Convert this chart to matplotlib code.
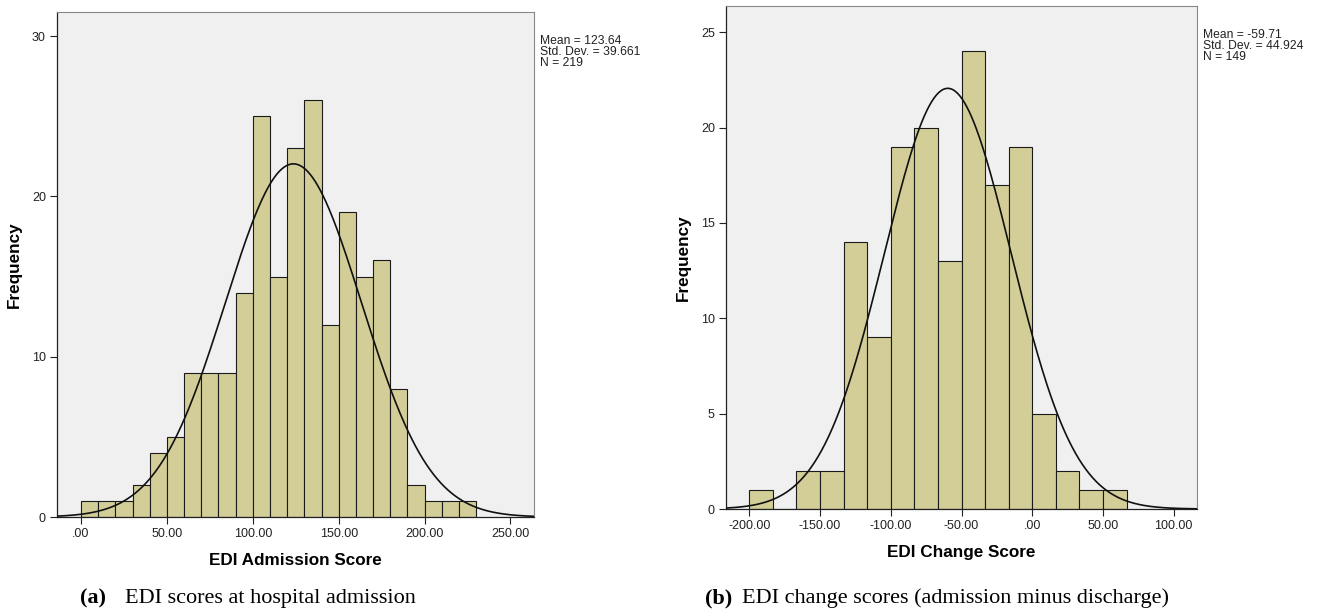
import numpy as np
from matplotlib import pyplot as plt
from matplotlib.ticker import FuncFormatter

# (a) EDI admission score histogram, bins of width 10 starting at 0
adm_counts = [1, 1, 1, 2, 4, 5, 9, 9, 9, 14, 25, 15, 23, 26, 12, 19, 15, 16, 8, 2, 1, 1, 1]
adm_start = 0.0
adm_width = 10.0
adm_mean, adm_sd, adm_n = 123.64, 39.661, 219

# (b) EDI change score histogram, bins of width 50/3 starting at -200
chg_counts = [1, 0, 2, 2, 14, 9, 19, 20, 13, 24, 17, 19, 5, 2, 1, 1]
chg_start = -200.0
chg_width = 50.0 / 3
chg_mean, chg_sd, chg_n = -59.71, 44.924, 149

W, H = 1318, 613
BAR = '#D3CE97'
BG = '#F0F0F0'
plt.rcParams['font.family'] = ['Liberation Sans', 'DejaVu Sans']

def fmt(v, pos):
    s = '%.2f' % v
    if s in ('0.00', '-0.00'):
        return '.00'
    return s

def draw(ax, counts, start, width, mean, sd, n, xlim, ylim, xticks, yticks, xlabel):
    ax.set_facecolor(BG)
    lefts = [start + i * width for i in range(len(counts))]
    ax.bar(lefts, counts, width=width, align='edge', color=BAR,
           edgecolor='#1a1a1a', linewidth=0.8, zorder=2)
    # normal curve fitted to the stats shown in the box
    xs = np.linspace(xlim[0], xlim[1], 400)
    ys = n * width / (sd * np.sqrt(2 * np.pi)) * np.exp(-0.5 * ((xs - mean) / sd) ** 2)
    ax.plot(xs, ys, color='#111111', lw=1.2, zorder=3)
    ax.set_xlim(*xlim)
    ax.set_ylim(*ylim)
    ax.set_xticks(xticks)
    ax.set_yticks(yticks)
    ax.xaxis.set_major_formatter(FuncFormatter(fmt))
    ax.tick_params(direction='out', length=5, width=0.8, colors='#222222',
                   labelsize=9, pad=3)
    for s in ('top', 'right'):
        ax.spines[s].set_color('#888888')
        ax.spines[s].set_linewidth(0.8)
    for s in ('left', 'bottom'):
        ax.spines[s].set_color('#222222')
        ax.spines[s].set_linewidth(0.9)
    ax.set_xlabel(xlabel, fontsize=12.3, fontweight='bold', labelpad=9)
    ax.set_ylabel('Frequency', fontsize=12.3, fontweight='bold', labelpad=7)
    ax.text(1.012, 0.955, 'Mean = %s\nStd. Dev. = %s\nN = %d' % (
        ('%.2f' % mean), ('%.3f' % sd), n),
        transform=ax.transAxes, fontsize=8.7, va='top', ha='left',
        color='#222222', linespacing=0.93)

fig = plt.figure(figsize=(W / 100, H / 100), dpi=100)
fig.patch.set_facecolor('white')

ax1 = fig.add_axes([57 / W, (H - 517) / H, (534 - 57) / W, (517 - 12) / H])
draw(ax1, adm_counts, adm_start, adm_width, adm_mean, adm_sd, adm_n,
     (-14, 263.7), (0, 31.5), [0, 50, 100, 150, 200, 250], [0, 10, 20, 30],
     'EDI Admission Score')

ax2 = fig.add_axes([726 / W, (H - 509) / H, (1197 - 726) / W, (509 - 6) / H])
draw(ax2, chg_counts, chg_start, chg_width, chg_mean, chg_sd, chg_n,
     (-216.5, 116.5), (0, 26.37), [-200, -150, -100, -50, 0, 50, 100],
     [0, 5, 10, 15, 20, 25], 'EDI Change Score')

cap_y = 1 - 598 / H
serif = ['Liberation Serif', 'DejaVu Serif']
fig.text(80 / W, cap_y, '(a)', family=serif, fontsize=16, fontweight='bold', va='center')
fig.text(125 / W, cap_y, 'EDI scores at hospital admission', family=serif, fontsize=16, va='center')
fig.text(705 / W, cap_y, '(b)', family=serif, fontsize=16, fontweight='bold', va='center')
fig.text(742 / W, cap_y, 'EDI change scores (admission minus discharge)', family=serif, fontsize=16, va='center')

fig.savefig('out.png', dpi=100)
